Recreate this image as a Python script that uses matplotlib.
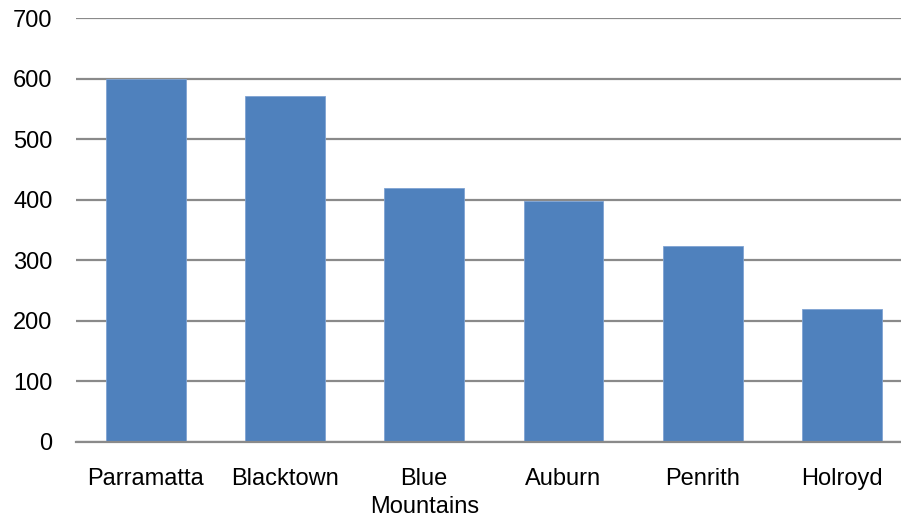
import matplotlib
matplotlib.use("Agg")
import matplotlib.pyplot as plt
import numpy as np

# councils and their counts
councils = ["Parramatta", "Blacktown", "Blue\nMountains", "Auburn", "Penrith", "Holroyd"]
counts = [600, 572, 420, 397, 324, 219]
yticks = [0, 100, 200, 300, 400, 500, 600, 700]

plt.rcParams['font.family'] = ['Liberation Sans', 'DejaVu Sans']

fig = plt.figure(figsize=(9.01, 5.19), dpi=100)
ax = fig.add_axes([76 / 901, 77.5 / 519, 835.7 / 901, 423.2 / 519])

x = np.arange(len(councils))
ax.bar(x, counts, width=0.574, color="#4F81BD", edgecolor="#7FA3D3", linewidth=0.6, zorder=2)

ax.set_xlim(-0.5, len(councils) - 0.5)
ax.set_ylim(0, 700)
ax.set_yticks(yticks)
ax.yaxis.grid(True, color="#8A8A8A", linewidth=1.6, zorder=0)
ax.set_axisbelow(True)

for s in ["top", "right", "left"]:
    ax.spines[s].set_visible(False)
ax.spines["bottom"].set_color("#8A8A8A")
ax.spines["bottom"].set_linewidth(1.6)

ax.set_xticks(x)
ax.set_xticklabels(councils, fontsize=17, linespacing=1.35)
ax.tick_params(axis="x", length=0, pad=19)
ax.tick_params(axis="y", length=0, pad=17, labelsize=17)

fig.savefig("out.png", dpi=100)
